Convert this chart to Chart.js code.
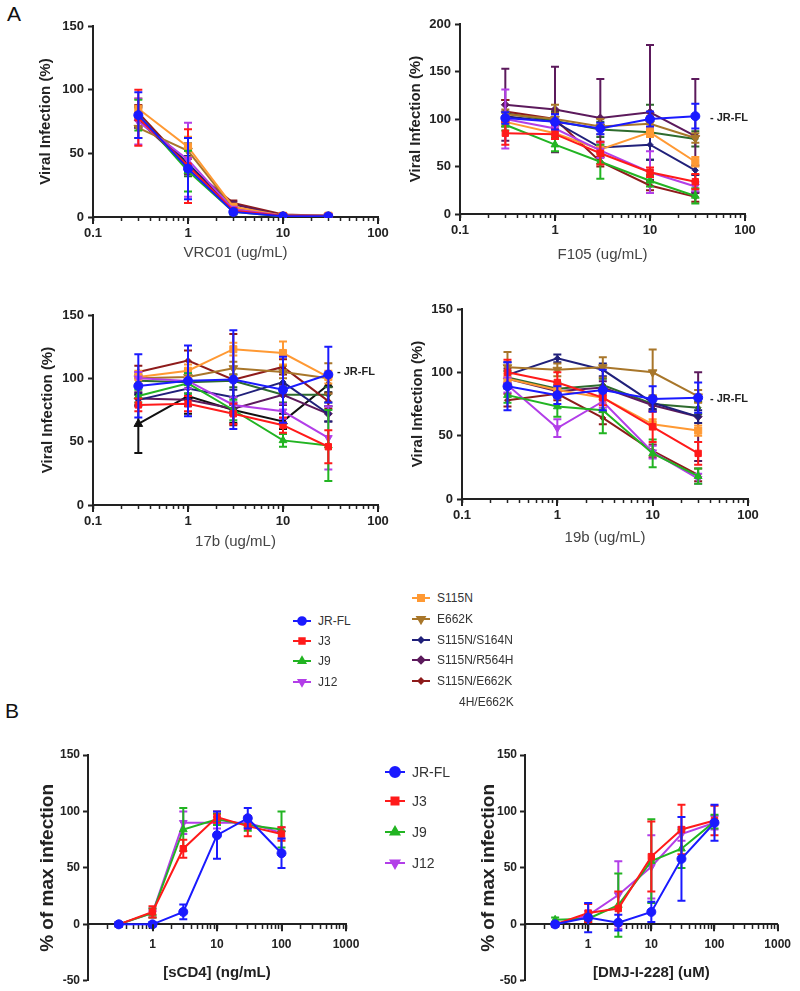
<!DOCTYPE html>
<html>
<head>
<meta charset="utf-8">
<script src="https://cdn.jsdelivr.net/npm/chart.js@4.4.1/dist/chart.umd.min.js"></script>
<style>
  body { margin: 0; background: #fff; font-family: 'Liberation Sans', Arial, sans-serif; }
  #fig { position: relative; width: 800px; height: 991px; overflow: hidden; background: #fff; }
  #fig canvas.plot { position: absolute; }
  .txt { position: absolute; white-space: nowrap; color: #333; }
  .key { position: absolute; display: flex; align-items: center; height: 16px; white-space: nowrap; color: #333; }
  .key canvas { margin-right: 7px; }
</style>
</head>
<body>
<div id="fig">
  <div class="txt" style="left:7px;top:2px;font-size:21px;color:#111">A</div>
  <div class="txt" style="left:5px;top:699px;font-size:21px;color:#111">B</div>

  <canvas class="plot" id="vrc01" width="400" height="270" style="left:0;top:0"></canvas>
  <canvas class="plot" id="f105" width="400" height="270" style="left:400px;top:0"></canvas>
  <canvas class="plot" id="b17" width="400" height="268" style="left:0;top:290px"></canvas>
  <canvas class="plot" id="b19" width="400" height="268" style="left:400px;top:290px"></canvas>
  <canvas class="plot" id="scd4" width="400" height="291" style="left:0;top:700px"></canvas>
  <canvas class="plot" id="dmj" width="400" height="291" style="left:400px;top:700px"></canvas>

  <div class="txt" style="left:710px;top:111px;font-size:11px;font-weight:bold;color:#222">- JR-FL</div>
  <div class="txt" style="left:337px;top:365px;font-size:11px;font-weight:bold;color:#222">- JR-FL</div>
  <div class="txt" style="left:710px;top:392px;font-size:11px;font-weight:bold;color:#222">- JR-FL</div>

  <div id="legA"></div>
  <div class="txt" style="left:459px;top:695px;font-size:12px">4H/E662K</div>
  <div id="legB"></div>
</div>

<script>
// ---- data ----
const DOSE_A = [0.3, 1, 3, 10, 30];          // ug/mL
const DOSE_B = [0.3, 1, 3, 10, 30, 100];     // ng/mL or uM

const SERIES = ['JR-FL', 'J3', 'J9', 'J12', 'S115N', 'E662K', 'S115N/S164N', 'S115N/R564H', 'S115N/E662K', 'S115N/S164N/R564H/E662K', 'control'];
const COLORS = ['#1a1aff', '#ff1a1a', '#22b422', '#b23ee8', '#ff9933', '#a8762a', '#20207a', '#5c1a5c', '#8e1b1b', '#2e6b2e', '#111111'];
const SHAPES = ['circle', 'rect', 'triangle', 'triangle', 'rect', 'triangle', 'rectRot', 'rectRot', 'rectRot', 'rectRot', 'triangle'];
const ROTS   = [0, 0, 0, 180, 0, 180, 0, 0, 0, 0, 0];
const RADII  = [4.5, 4.5, 4.5, 4.5, 5, 5, 3, 4, 3, 3, 5];

const X_LABELS_A = [0.1, 1, 10, 100];
const X_LABELS_B = [1, 10, 100, 1000];
const Y_TICKS_150 = [0, 50, 100, 150];
const Y_TICKS_200 = [0, 50, 100, 150, 200];
const Y_TICKS_B = [-50, 0, 50, 100, 150];

const LEGEND_A_LEFT = ['JR-FL', 'J3', 'J9', 'J12'];
const LEGEND_A_RIGHT = ['S115N', 'E662K', 'S115N/S164N', 'S115N/R564H', 'S115N/E662K'];
const LEGEND_B = ['JR-FL', 'J3', 'J9', 'J12'];

// VRC01
const VRC01 = {
  'JR-FL': [80, 38, 4, 0.5, 0.5],
  'J3': [78, 40, 5, 1, 0.5],
  'J9': [80, 36, 4, 0.5, 0.5],
  'J12': [75, 45, 6, 1, 1],
  'S115N': [85, 55, 8, 1, 1],
  'E662K': [70, 52, 7, 1, 1],
  'S115N/S164N': [78, 42, 5, 1, 0.5],
  'S115N/R564H': [76, 40, 10, 1, 1],
  'S115N/E662K': [82, 40, 11, 2, 1],
  'S115N/S164N/R564H/E662K': [79, 42, 6, 1, 1],
};
const VRC01_SD = {
  'JR-FL': [18, 24, 2, 1, 1],
  'J3': [22, 29, 2, 1, 1],
  'J9': [12, 16, 2, 1, 1],
  'J12': [18, 29, 2, 1, 1],
  'S115N': [8, 8, 2, 1, 1],
  'E662K': [8, 6, 2, 1, 1],
  'S115N/S164N': [8, 6, 2, 1, 1],
  'S115N/R564H': [6, 6, 2, 1, 1],
  'S115N/E662K': [6, 6, 2, 1, 1],
  'S115N/S164N/R564H/E662K': [8, 10, 2, 1, 1],
};

// F105
const F105 = {
  'JR-FL': [101, 97, 90, 100, 103],
  'J3': [85, 84, 64, 44, 34],
  'J9': [94, 73, 55, 35, 19],
  'J12': [100, 90, 67, 44, 29],
  'S115N': [97, 85, 68, 86, 55],
  'E662K': [105, 100, 92, 95, 80],
  'S115N/S164N': [103, 97, 70, 73, 46],
  'S115N/R564H': [115, 110, 101, 107, 82],
  'S115N/E662K': [108, 100, 55, 30, 18],
  'S115N/S164N/R564H/E662K': [106, 98, 89, 86, 79],
};
const F105_SD = {
  'JR-FL': [6, 8, 6, 8, 13],
  'J3': [12, 5, 12, 5, 8],
  'J9': [6, 7, 18, 6, 8],
  'J12': [31, 6, 8, 22, 5],
  'S115N': [5, 5, 5, 5, 5],
  'E662K': [5, 15, 8, 8, 5],
  'S115N/S164N': [5, 8, 6, 16, 5],
  'S115N/R564H': [38, 45, 41, 71, 60],
  'S115N/E662K': [12, 6, 5, 5, 5],
  'S115N/S164N/R564H/E662K': [14, 10, 8, 29, 8],
};

// 17b
const B17 = {
  'JR-FL': [94, 98, 99, 91, 103],
  'J3': [79, 80, 72, 63, 46],
  'J9': [86, 96, 75, 51, 47],
  'J12': [100, 98, 79, 74, 53],
  'S115N': [101, 106, 123, 120, 101],
  'E662K': [100, 101, 108, 105, 100],
  'S115N/S164N': [83, 92, 85, 97, 72],
  'S115N/R564H': [84, 83, 76, 87, 72],
  'S115N/E662K': [105, 114, 99, 109, 82],
  'S115N/S164N/R564H/E662K': [98, 97, 98, 87, 87],
  'control': [64, 86, 75, 66, 95],
};
const B17_SD = {
  'JR-FL': [25, 28, 39, 26, 22],
  'J3': [5, 6, 8, 6, 13],
  'J9': [5, 8, 8, 5, 28],
  'J12': [5, 6, 6, 6, 25],
  'S115N': [5, 5, 5, 9, 5],
  'E662K': [5, 5, 5, 5, 12],
  'S115N/S164N': [5, 6, 6, 8, 6],
  'S115N/R564H': [5, 5, 5, 8, 6],
  'S115N/E662K': [5, 8, 36, 6, 6],
  'S115N/S164N/R564H/E662K': [5, 5, 5, 6, 6],
  'control': [23, 14, 10, 6, 6],
};

// 19b
const B19 = {
  'JR-FL': [89, 82, 86, 79, 80],
  'J3': [100, 92, 80, 57, 36],
  'J9': [82, 73, 70, 36, 18],
  'J12': [90, 56, 77, 37, 16],
  'S115N': [95, 86, 80, 59, 54],
  'E662K': [104, 102, 104, 100, 81],
  'S115N/S164N': [98, 111, 102, 76, 65],
  'S115N/R564H': [95, 85, 88, 74, 65],
  'S115N/E662K': [78, 83, 64, 38, 19],
  'S115N/S164N/R564H/E662K': [96, 87, 90, 75, 72],
};
const B19_SD = {
  'JR-FL': [19, 7, 16, 10, 12],
  'J3': [10, 8, 6, 12, 9],
  'J9': [6, 8, 18, 11, 6],
  'J12': [6, 7, 5, 5, 4],
  'S115N': [4, 4, 4, 4, 4],
  'E662K': [12, 5, 8, 18, 5],
  'S115N/S164N': [10, 3, 5, 5, 5],
  'S115N/R564H': [8, 5, 5, 5, 35],
  'S115N/E662K': [5, 5, 5, 5, 5],
  'S115N/S164N/R564H/E662K': [5, 5, 5, 5, 5],
};

// sCD4
const SCD4 = {
  'JR-FL': [0, 0, 11, 79, 94, 63],
  'J3': [0, 11, 67, 95, 87, 80],
  'J9': [0, 10, 84, 93, 88, 84],
  'J12': [0, 10, 90, 90, 90, 81],
};
const SCD4_SD = {
  'JR-FL': [2, 2, 6.5, 21, 9, 13],
  'J3': [2, 5, 8, 5, 9, 6],
  'J9': [2, 4, 19, 5, 5, 16],
  'J12': [2, 4, 10, 5, 5, 5],
};

// DMJ-I-228
const DMJ = {
  'JR-FL': [0, 6, 1.5, 11, 58, 90],
  'J3': [0, 10, 14, 60, 84, 92],
  'J9': [4, 5, 17, 56, 67, 91],
  'J12': [0, 8, 26, 51, 80, 90],
};
const DMJ_SD = {
  'JR-FL': [2, 13, 7, 9, 37, 16],
  'J3': [2, 8, 15, 31, 22, 13],
  'J9': [2, 3, 28, 37, 17, 6],
  'J12': [2, 4, 30, 28, 6, 6],
};

// ---- drawing ----
const FONT = "'Liberation Sans', Arial, sans-serif";
const INK = '#222';
Chart.defaults.font.family = FONT;
Chart.defaults.color = INK;

const errorBars = {
  id: 'errorBars',
  beforeDatasetDraw(chart, args) {
    const ds = chart.data.datasets[args.index];
    if (!ds.err) return;
    const xs = chart.scales.x, ys = chart.scales.y;
    const ctx = chart.ctx, cap = 4;
    ctx.save();
    ctx.strokeStyle = ds.borderColor;
    ctx.lineWidth = 2;
    ds.data.forEach((p, i) => {
      const e = ds.err[i];
      if (!e) return;
      const px = xs.getPixelForValue(p.x);
      const top = ys.getPixelForValue(p.y + e);
      const bot = ys.getPixelForValue(Math.max(p.y - e, ys.min));
      ctx.beginPath();
      ctx.moveTo(px, top); ctx.lineTo(px, bot);
      ctx.moveTo(px - cap, top); ctx.lineTo(px + cap, top);
      ctx.moveTo(px - cap, bot); ctx.lineTo(px + cap, bot);
      ctx.stroke();
    });
    ctx.restore();
  }
};

// longer tick marks at the labelled decades
const majorTicks = {
  id: 'majorTicks',
  afterDraw(chart, args, opts) {
    const xs = chart.scales.x;
    const y0 = chart.options.scales.x.position.y !== undefined
      ? chart.scales.y.getPixelForValue(0) : xs.top;
    const ctx = chart.ctx;
    ctx.save();
    ctx.strokeStyle = INK; ctx.lineWidth = 2;
    (opts.values || []).forEach(v => {
      const px = Math.round(xs.getPixelForValue(v));
      ctx.beginPath(); ctx.moveTo(px, y0); ctx.lineTo(px, y0 + 7); ctx.stroke();
    });
    ctx.restore();
  }
};

function sets(dose, table, sd) {
  return Object.keys(table).map(name => {
    const i = SERIES.indexOf(name);
    return {
      label: name,
      data: dose.map((x, k) => ({ x, y: table[name][k] })),
      err: sd[name],
      borderColor: COLORS[i], backgroundColor: COLORS[i],
      pointStyle: SHAPES[i], pointRotation: ROTS[i], pointRadius: RADII[i],
      pointBorderWidth: 1, borderWidth: 2, tension: 0,
    };
  });
}

const isMajor = (v, labels) => labels.some(l => Math.abs(v - l) / l < 1e-6);

function logTicks(min, max) {
  const t = [];
  for (let d = min; d < max * 0.999; d *= 10)
    for (let k = 1; k < 10; k++) t.push({ value: +(d * k).toPrecision(3) });
  t.push({ value: max });
  return t;
}

function panel(id, datasets, o) {
  new Chart(document.getElementById(id), {
    type: 'line',
    data: { datasets },
    options: {
      responsive: false, animation: false, events: [],
      layout: { padding: o.pad },
      plugins: {
        legend: { display: false }, tooltip: { enabled: false },
        majorTicks: { values: o.xAll },
      },
      scales: {
        x: {
          type: 'logarithmic', min: o.xmin, max: o.xmax,
          position: o.xAtZero ? { y: 0 } : 'bottom',
          afterBuildTicks: s => { s.ticks = logTicks(o.xmin, o.xmax); },
          afterFit: s => { s.height = o.xh; },
          ticks: {
            autoSkip: false, maxRotation: 0, padding: o.xpad, color: INK,
            font: { size: o.xfs, weight: 'bold' },
            callback: v => isMajor(v, o.xLabels) ? String(v) : '',
          },
          grid: { display: true, drawOnChartArea: false, drawTicks: true, tickLength: 4,
                  tickColor: INK, tickWidth: 1.5 },
          border: { display: true, color: INK, width: 2 },
          title: { display: true, text: o.xTitle, color: o.xTitleColor,
                   font: { size: 15, weight: o.xTitleWeight }, padding: { top: 4, bottom: 4 } },
        },
        y: {
          min: o.ymin, max: o.ymax,
          afterBuildTicks: s => { s.ticks = o.yTicks.map(v => ({ value: v })); },
          afterFit: s => { s.width = o.yw; },
          ticks: { padding: o.ypad, color: INK, font: { size: o.yfs, weight: 'bold' } },
          grid: { display: true, drawOnChartArea: false, drawTicks: true, tickLength: 5, tickColor: INK, tickWidth: 2 },
          border: { display: true, color: INK, width: 2 },
          title: { display: true, text: o.yTitle, color: INK,
                   font: { size: o.yTitleSize, weight: 'bold' }, padding: { top: 4, bottom: 4 } },
        },
      },
    },
    plugins: [errorBars, majorTicks],
  });
}

const A_COMMON = {
  xmin: 0.1, xmax: 100, xLabels: X_LABELS_A, xAll: X_LABELS_A, xpad: 5, xfs: 13,
  xTitleColor: '#444', xTitleWeight: 'normal', ypad: 4, yfs: 13,
  yTitle: 'Viral Infection (%)', yTitleSize: 15,
};

panel('vrc01', sets(DOSE_A, VRC01, VRC01_SD), { ...A_COMMON,
  pad: { left: 33, top: 26, right: 22, bottom: 4 }, yw: 60, xh: 49,
  ymin: 0, ymax: 150, yTicks: Y_TICKS_150, xTitle: 'VRC01 (ug/mL)' });

panel('f105', sets(DOSE_A, F105, F105_SD), { ...A_COMMON,
  pad: { left: 3, top: 24, right: 55, bottom: 2 }, yw: 57, xh: 54,
  ymin: 0, ymax: 200, yTicks: Y_TICKS_200, xTitle: 'F105 (ug/mL)' });

panel('b17', sets(DOSE_A, B17, B17_SD), { ...A_COMMON,
  pad: { left: 35, top: 25, right: 22, bottom: 3 }, yw: 58, xh: 50,
  ymin: 0, ymax: 150, yTicks: Y_TICKS_150, xTitle: '17b (ug/mL)' });

panel('b19', sets(DOSE_A, B19, B19_SD), { ...A_COMMON,
  pad: { left: 5, top: 19, right: 52, bottom: 7 }, yw: 57, xh: 52,
  ymin: 0, ymax: 150, yTicks: Y_TICKS_150, xTitle: '19b (ug/mL)' });

const B_COMMON = {
  xmin: 0.1, xmax: 1000, xLabels: X_LABELS_B, xAll: [0.1].concat(X_LABELS_B), xAtZero: true,
  xpad: 9, xfs: 12, xTitleColor: INK, xTitleWeight: 'bold', ypad: 3, yfs: 12,
  ymin: -50, ymax: 150, yTicks: Y_TICKS_B, yTitle: '% of max infection', yTitleSize: 19, xh: 62,
};

panel('scd4', sets(DOSE_B, SCD4, SCD4_SD), { ...B_COMMON,
  pad: { left: 32, top: 55, right: 54, bottom: 10 }, yw: 56,
  xTitle: '[sCD4] (ng/mL)' });

panel('dmj', sets(DOSE_B, DMJ, DMJ_SD), { ...B_COMMON,
  pad: { left: 73, top: 55, right: 15, bottom: 10 }, yw: 52,
  xTitle: '[DMJ-I-228] (uM)' });

// ---- legends ----
function keyIcon(name, w, h) {
  const i = SERIES.indexOf(name);
  const cv = document.createElement('canvas');
  cv.width = w; cv.height = h;
  const ctx = cv.getContext('2d');
  ctx.strokeStyle = COLORS[i]; ctx.fillStyle = COLORS[i]; ctx.lineWidth = 2;
  ctx.beginPath(); ctx.moveTo(0, h / 2); ctx.lineTo(w, h / 2); ctx.stroke();
  const opt = { pointStyle: SHAPES[i], radius: RADII[i] * (h > 14 ? 1.1 : 0.85), rotation: ROTS[i], borderWidth: 1 };
  if (Chart.helpers && Chart.helpers.drawPoint) {
    Chart.helpers.drawPoint(ctx, opt, w / 2, h / 2);
  } else {
    ctx.beginPath(); ctx.arc(w / 2, h / 2, opt.radius, 0, Math.PI * 2); ctx.fill();
  }
  return cv;
}

function legend(host, names, x, ys, w, h, fs) {
  const el = document.getElementById(host);
  names.forEach((n, k) => {
    const row = document.createElement('div');
    row.className = 'key';
    row.style.left = x + 'px';
    row.style.top = (ys[k] - 8) + 'px';
    row.style.fontSize = fs + 'px';
    row.appendChild(keyIcon(n, w, h));
    row.appendChild(document.createTextNode(n));
    el.appendChild(row);
  });
}

legend('legA', LEGEND_A_LEFT, 293, [621, 641, 661, 682], 18, 12, 12);
legend('legA', LEGEND_A_RIGHT, 412, [598, 619, 640, 660, 681], 18, 12, 12);
legend('legB', LEGEND_B, 385, [772, 801, 832, 863], 20, 16, 14);
</script>
</body>
</html>
